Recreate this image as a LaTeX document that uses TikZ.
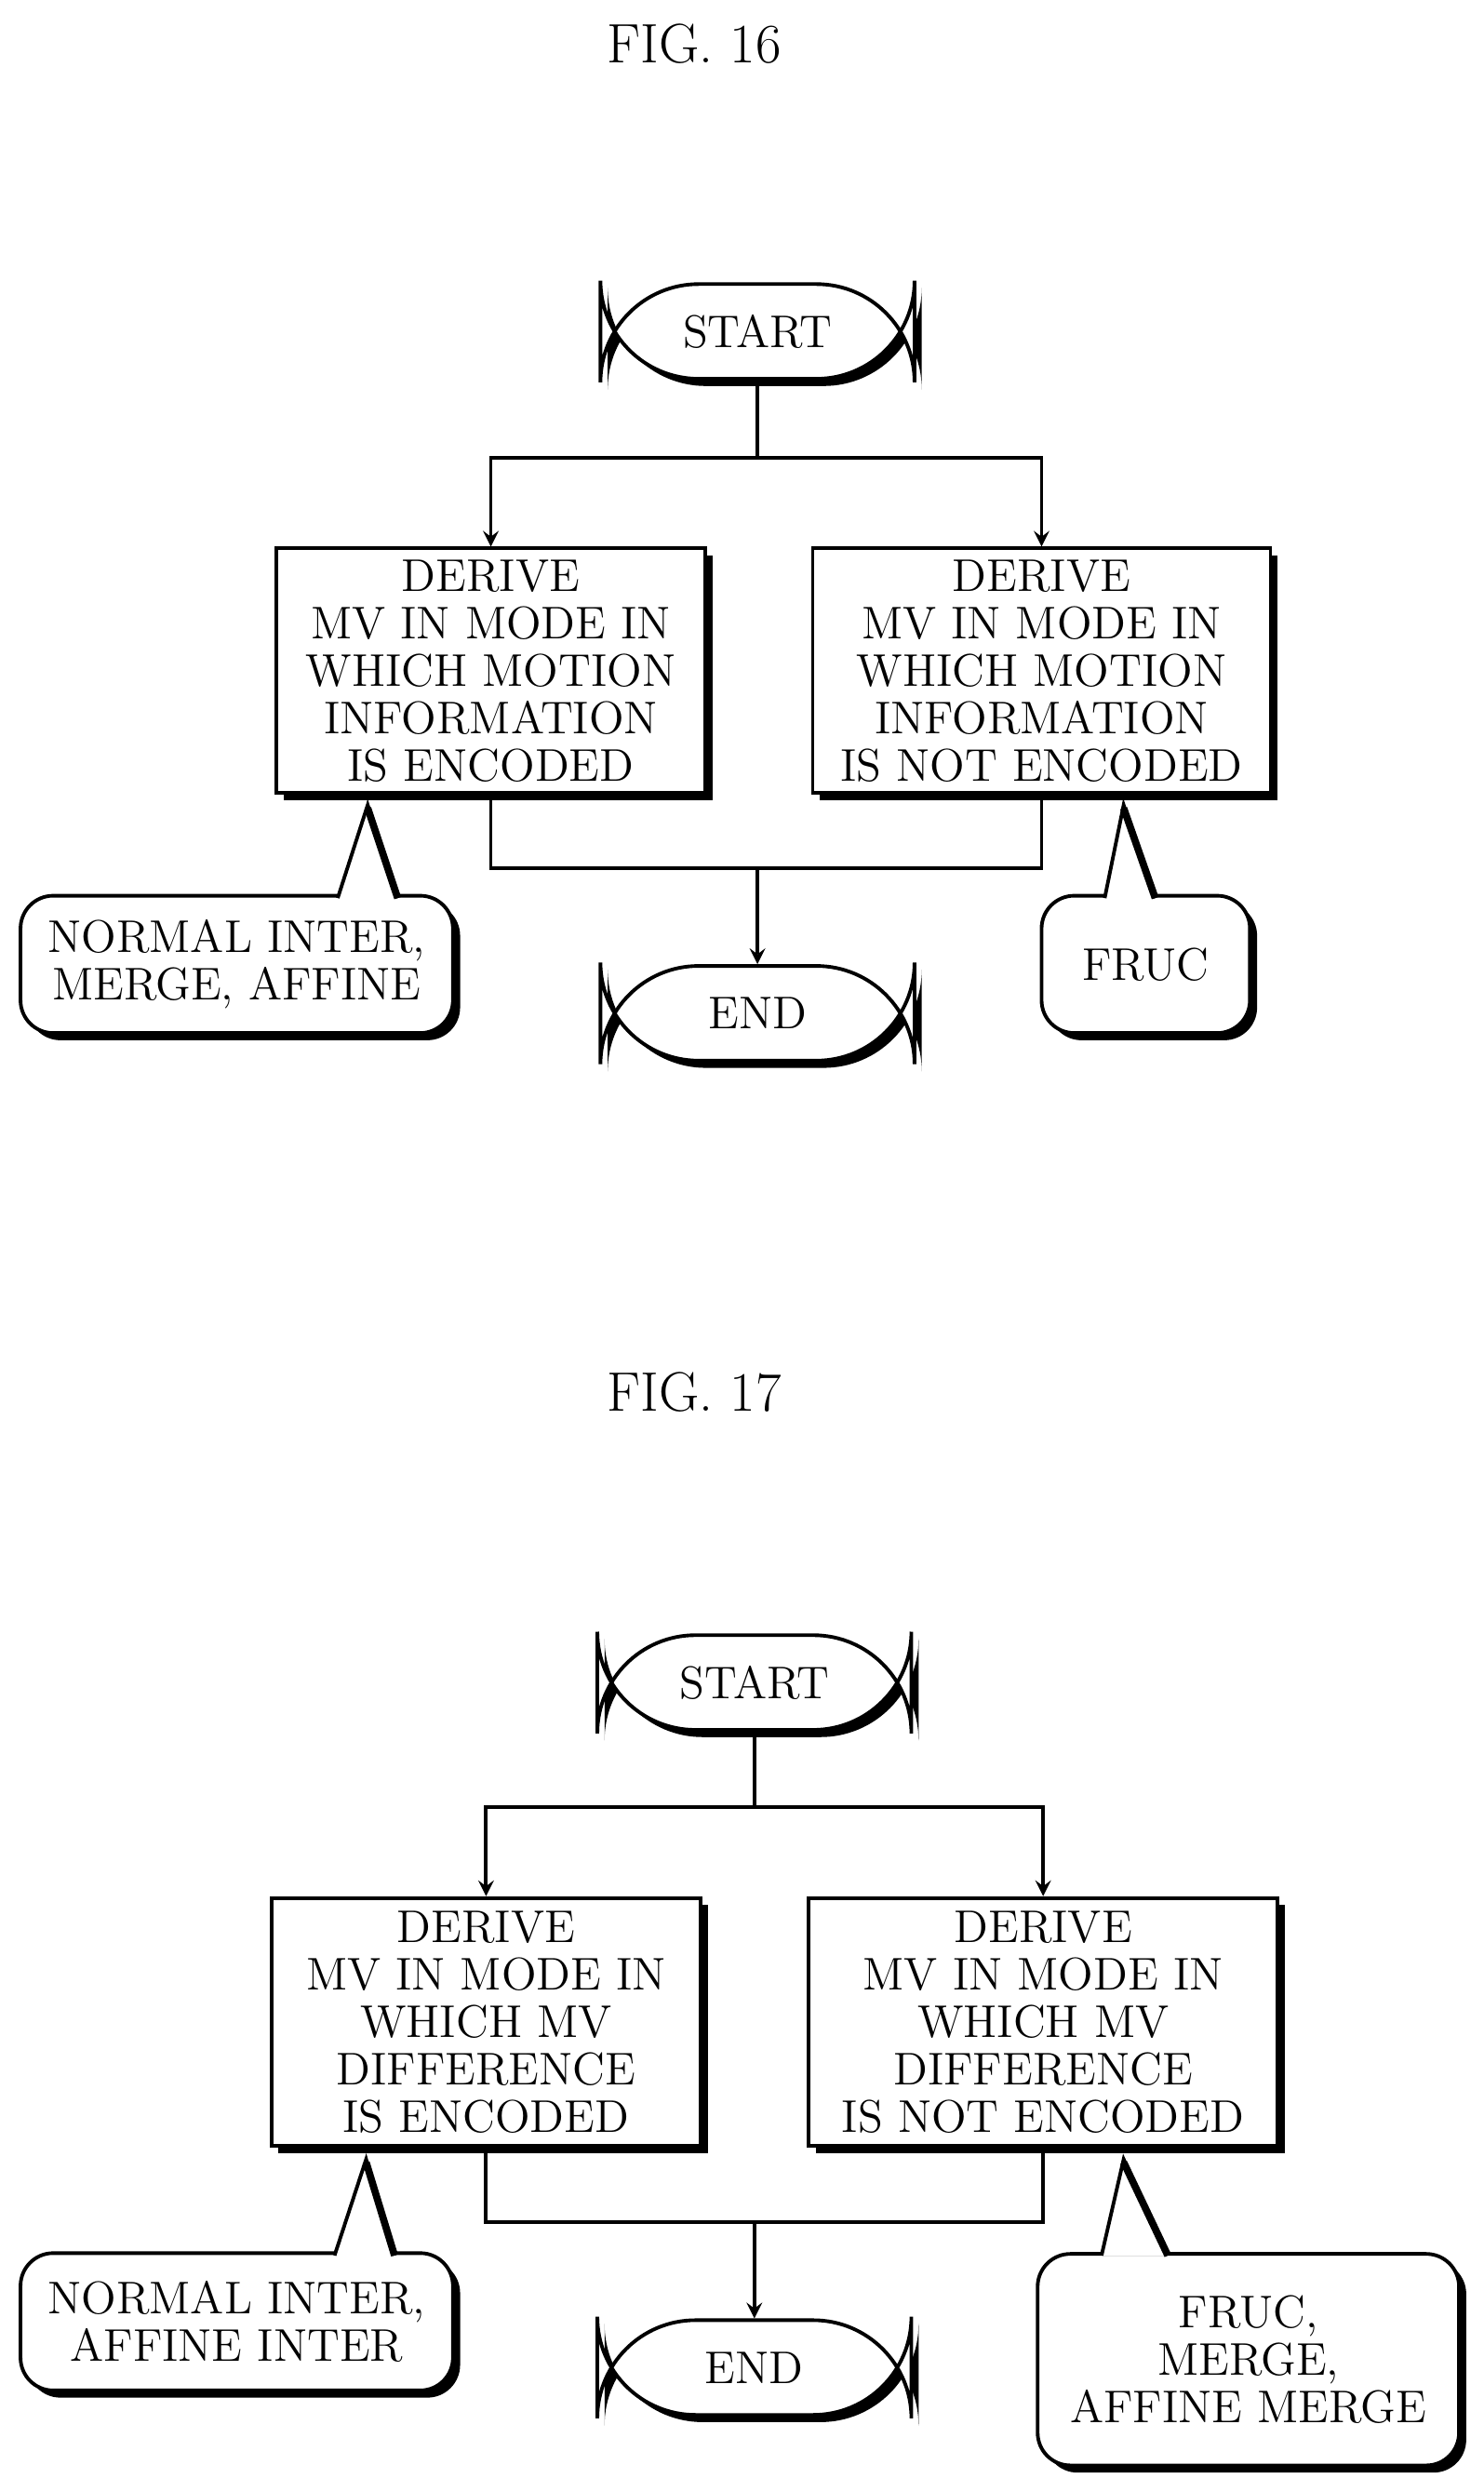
\documentclass[tikz,border=0pt]{standalone}
\usetikzlibrary{shadows}
\begin{document}
\begin{tikzpicture}[x=0.01696cm,y=-0.01696cm,line width=1.1pt]
  % Styles
  \tikzstyle{shade}=[drop shadow={opacity=1,fill=black,shadow xshift=2.2pt,shadow yshift=-2.2pt}]
  \tikzstyle{terminal}=[draw,fill=white,shade,rounded corners=30,minimum width=199*0.01696cm,minimum height=60*0.01696cm,font=\fontsize{14}{14}\selectfont]
  \tikzstyle{process}=[draw,fill=white,shade,align=center,inner sep=0pt,font=\fontsize{14}{14.5}\selectfont]
  \tikzstyle{note}=[draw,fill=white,shade,rounded corners=10,align=center,inner sep=0pt,font=\fontsize{14}{14.5}\selectfont]
  \tikzstyle{arrow}=[->,>=stealth]

  \useasboundingbox (0,0) rectangle (940,1570);

  % FIG. 16
  \node[font=\fontsize{17}{20}\selectfont] (fig16) at (440,28) {FIG. 16};
  \node[terminal] (start16) at (480,210) {START};
  \node[process,minimum width=272*0.01696cm,minimum height=155*0.01696cm] (enc16) at (311,425)
    {DERIVE\\MV IN MODE IN\\WHICH MOTION\\INFORMATION\\IS ENCODED};
  \node[process,minimum width=290*0.01696cm,minimum height=155*0.01696cm] (nenc16) at (660,425)
    {DERIVE\\MV IN MODE IN\\WHICH MOTION\\INFORMATION\\IS NOT ENCODED};
  \node[terminal] (end16) at (480,642) {END};
  \node[note,minimum width=274*0.01696cm,minimum height=87*0.01696cm] (note16a) at (150,611)
    {NORMAL INTER,\\MERGE, AFFINE};
  \node[note,minimum width=132*0.01696cm,minimum height=87*0.01696cm] (note16b) at (726,611) {FRUC};
  \coordinate (split16) at (480,290);
  \coordinate (join16) at (480,550);
  \draw (start16.south) -- (split16);
  \draw[arrow] (split16) -| (enc16.north);
  \draw[arrow] (split16) -| (nenc16.north);
  \draw (enc16.south) |- (join16);
  \draw (nenc16.south) |- (join16);
  \draw[arrow] (join16) -- (end16.north);
  % pointers
  \fill[white] (214,569) -- (233,510) -- (252,569) -- cycle;
  \draw (214,569) -- (233,510) -- (252,569);
  \draw[line width=2.2pt] (233,512) -- (252,569);
  \fill[white] (700,569) -- (712,510) -- (732,569) -- cycle;
  \draw (700,569) -- (712,510) -- (732,569);
  \draw[line width=2.2pt] (712,512) -- (732,569);

  % FIG. 17
  \node[font=\fontsize{17}{20}\selectfont] (fig17) at (440,882) {FIG. 17};
  \node[terminal] (start17) at (478,1066) {START};
  \node[process,minimum width=272*0.01696cm,minimum height=157*0.01696cm] (enc17) at (308,1281)
    {DERIVE\\MV IN MODE IN\\WHICH MV\\DIFFERENCE\\IS ENCODED};
  \node[process,minimum width=297*0.01696cm,minimum height=157*0.01696cm] (nenc17) at (661,1281)
    {DERIVE\\MV IN MODE IN\\WHICH MV\\DIFFERENCE\\IS NOT ENCODED};
  \node[terminal] (end17) at (478,1500) {END};
  \node[note,minimum width=274*0.01696cm,minimum height=87*0.01696cm] (note17a) at (150,1471)
    {NORMAL INTER,\\AFFINE INTER};
  \node[note,minimum width=267*0.01696cm,minimum height=134*0.01696cm] (note17b) at (791,1495)
    {FRUC,\\MERGE,\\AFFINE MERGE};
  \coordinate (split17) at (478,1145);
  \coordinate (join17) at (478,1408);
  \draw (start17.south) -- (split17);
  \draw[arrow] (split17) -| (enc17.north);
  \draw[arrow] (split17) -| (nenc17.north);
  \draw (enc17.south) |- (join17);
  \draw (nenc17.south) |- (join17);
  \draw[arrow] (join17) -- (end17.north);
  % pointers
  \fill[white] (212,1429) -- (232,1368) -- (250,1429) -- cycle;
  \draw (212,1429) -- (232,1368) -- (250,1429);
  \draw[line width=2.2pt] (232,1370) -- (250,1429);
  \fill[white] (698,1429) -- (712,1368) -- (740,1429) -- cycle;
  \draw (698,1429) -- (712,1368) -- (740,1429);
  \draw[line width=2.2pt] (712,1370) -- (740,1429);
\end{tikzpicture}
\end{document}
